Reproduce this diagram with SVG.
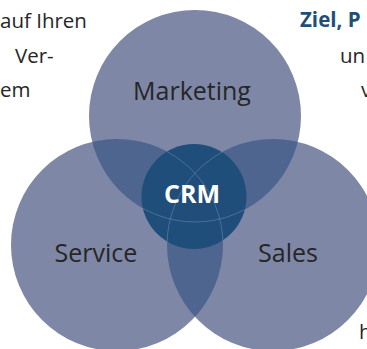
<svg xmlns="http://www.w3.org/2000/svg" width="367" height="349" viewBox="0 0 367 349">
<style>
.c{fill:#7F87A7}
.ov{fill:#4E668F}
.crm{fill:#1F4E7B}
.seam{fill:none;stroke:#6E8BB0;stroke-width:0.8;stroke-opacity:0.7}
.lbl{font-family:"Open Sans","Liberation Sans",sans-serif;font-size:25px;fill:#262626;text-anchor:middle}
.side{font-family:"Open Sans","Liberation Sans",sans-serif;font-size:20.5px;fill:#262626}
.hd{font-family:"Open Sans","Liberation Sans",sans-serif;font-size:20.5px;font-weight:bold;fill:#1F4E79}
.crmt{font-family:"Open Sans","Liberation Sans",sans-serif;font-size:25px;font-weight:bold;fill:#FFFFFF;text-anchor:middle}
</style>
<defs>
<clipPath id="cpM"><circle cx="195" cy="116" r="106"/></clipPath>
<clipPath id="cpSe"><circle cx="117" cy="245" r="106"/></clipPath>
<clipPath id="cpCRM"><circle cx="194" cy="196.5" r="52.5"/></clipPath>
</defs>
<g id="side-text">
<text class="side" x="0" y="28">auf Ihren</text>
<text class="side" x="15" y="63">Ver-</text>
<text class="side" x="0" y="97">em</text>
<text class="hd" x="300" y="27">Ziel, P</text>
<text class="side" x="340" y="63">un</text>
<text class="side" x="361" y="97">v</text>
<text class="side" x="359" y="339">h</text>
</g>
<g id="marketing">
<circle class="c" cx="195" cy="116" r="106"/>
</g>
<g id="service">
<circle class="c" cx="117" cy="245" r="106"/>
</g>
<g id="sales">
<circle class="c" cx="273" cy="245" r="106"/>
</g>
<g id="overlaps">
<circle class="ov" cx="117" cy="245" r="106" clip-path="url(#cpM)"/>
<circle class="ov" cx="273" cy="245" r="106" clip-path="url(#cpM)"/>
<circle class="ov" cx="273" cy="245" r="106" clip-path="url(#cpSe)"/>
</g>
<g id="crm">
<circle class="crm" cx="194" cy="196.5" r="52.5"/>
<g clip-path="url(#cpCRM)">
<circle class="seam" cx="195" cy="116" r="106"/>
<circle class="seam" cx="117" cy="245" r="106"/>
<circle class="seam" cx="273" cy="245" r="106"/>
</g>
<text class="crmt" x="192" y="203">CRM</text>
</g>
<g id="labels">
<text class="lbl" x="192" y="100">Marketing</text>
<text class="lbl" x="96" y="262">Service</text>
<text class="lbl" x="288" y="262">Sales</text>
</g>
</svg>
